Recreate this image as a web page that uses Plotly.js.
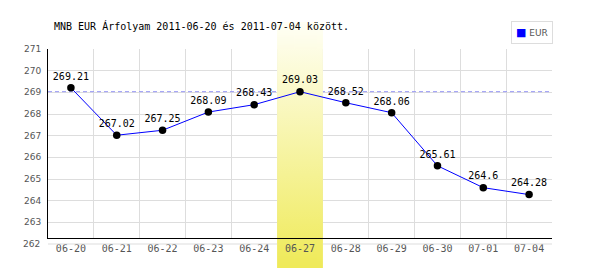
<!DOCTYPE html>
<html>
<head>
<meta charset="utf-8">
<script src="https://cdn.plot.ly/plotly-3.0.1.min.js"></script>
<style>html,body{margin:0;padding:0;background:#fff;}#chart{width:600px;height:270px;}</style>
</head>
<body>
<div id="chart"></div>
<script>
// ---- data ----
var categories = ['06-20','06-21','06-22','06-23','06-24','06-27','06-28','06-29','06-30','07-01','07-04'];
var values = [269.21, 267.02, 267.25, 268.09, 268.43, 269.03, 268.52, 268.06, 265.61, 264.6, 264.28];
var seriesName = 'EUR';
var highlightCategory = '06-27';
var yTickValues = [262, 263, 264, 265, 266, 267, 268, 269, 270, 271];
var titleText = 'MNB EUR Árfolyam 2011-06-20 és 2011-07-04 között.';

// ---- geometry / style ----
var W = 600, H = 270;
var M = {l: 48, r: 48, t: 49, b: 32};
var plotH = H - M.t - M.b;            // 189
var yMax = 271, yMinLabel = 262;
var pxPerUnit = (244 - M.t) / (yMax - yMinLabel);
var yMin = yMax - plotH / pxPerUnit;   // axis bottom sits a bit above 262
function pxToVal(py) { return yMax - (py - M.t) / pxPerUnit; }
function pxToPaperY(py) { return (H - M.b - py) / plotH; }

var idx = categories.map(function (c, i) { return i; });
var hi = categories.indexOf(highlightCategory);
var nCat = categories.length;
var bandTopPx = 22, bandBotPx = 268;
var topColor = [255, 255, 246], botColor = [239, 234, 88];
function rgb(c) { return 'rgb(' + c[0] + ',' + c[1] + ',' + c[2] + ')'; }

// gradient image for band parts outside the plot area
var cv = document.createElement('canvas');
cv.width = 4; cv.height = 256;
var ctx = cv.getContext('2d');
var g = ctx.createLinearGradient(0, 0, 0, 256);
g.addColorStop(0, rgb(topColor));
g.addColorStop(1, rgb(botColor));
ctx.fillStyle = g; ctx.fillRect(0, 0, 4, 256);
var bandImg = cv.toDataURL('image/png');

var monoFont = 'DejaVu Sans Mono, monospace';
var sansFont = 'DejaVu Sans, sans-serif';

var refLine = {
  x: [-0.5, nCat - 0.5], y: [values[hi], values[hi]],
  type: 'scatter', mode: 'lines', showlegend: false, hoverinfo: 'skip',
  line: {color: '#9595f5', width: 1, dash: '4px,3px'}
};

var band = {
  x: [hi - 0.5, hi + 0.5, hi + 0.5, hi - 0.5, hi - 0.5],
  y: [yMin, yMin, yMax, yMax, yMin],
  type: 'scatter', mode: 'lines', fill: 'toself', showlegend: false, hoverinfo: 'skip',
  line: {width: 0, color: 'rgba(0,0,0,0)'},
  fillgradient: {
    type: 'vertical',
    start: pxToVal(bandBotPx), stop: pxToVal(bandTopPx),
    colorscale: [[0, rgb(botColor)], [1, rgb(topColor)]]
  }
};

var series = {
  x: idx, y: values, name: seriesName,
  type: 'scatter', mode: 'lines+markers+text',
  text: values.map(function (v) { return String(v); }),
  textposition: 'top center',
  textfont: {family: monoFont, size: 10, color: '#000'},
  cliponaxis: false,
  line: {color: '#0000ff', width: 1},
  marker: {color: '#000', size: 7.5},
  showlegend: false, hoverinfo: 'skip'
};

var bandL = hi / nCat, bandR = (hi + 1) / nCat;
var y262 = pxToPaperY(244);

var layout = {
  width: W, height: H,
  margin: M,
  paper_bgcolor: '#fff', plot_bgcolor: '#fff',
  showlegend: false,
  hovermode: false,
  title: {
    text: titleText,
    font: {family: monoFont, size: 10, color: '#000'},
    xref: 'container', yref: 'container',
    x: 54 / W, xanchor: 'left',
    y: 1 - 26 / H, yanchor: 'middle'
  },
  xaxis: {
    type: 'linear', range: [-0.5, nCat - 0.5], fixedrange: true,
    tickmode: 'array', tickvals: idx, ticktext: categories,
    tickfont: {family: monoFont, size: 10, color: '#555'},
    ticks: 'outside', ticklen: 1, tickcolor: 'rgba(0,0,0,0)',
    showgrid: false, zeroline: false,
    showline: true, linecolor: '#000', linewidth: 1,
    minor: {tick0: 0.5, dtick: 1, showgrid: true, gridcolor: '#dddddd', gridwidth: 1, ticks: ''}
  },
  yaxis: {
    range: [yMin, yMax], fixedrange: true,
    tickmode: 'array', tickvals: yTickValues,
    tickfont: {family: sansFont, size: 9, color: '#555'},
    ticks: 'outside', ticklen: 4, tickcolor: 'rgba(0,0,0,0)',
    showgrid: true, gridcolor: '#dddddd', gridwidth: 1, zeroline: false,
    showline: true, linecolor: '#000', linewidth: 1
  },
  images: [{
    source: bandImg, xref: 'paper', yref: 'paper',
    x: bandL, y: pxToPaperY(bandTopPx), sizex: bandR - bandL,
    sizey: pxToPaperY(bandTopPx) - pxToPaperY(bandBotPx),
    xanchor: 'left', yanchor: 'top', sizing: 'stretch', layer: 'below'
  }],
  shapes: [
    {type: 'line', xref: 'paper', yref: 'paper', x0: 0, x1: bandL, y0: y262, y1: y262,
     line: {color: '#dddddd', width: 1}},
    {type: 'line', xref: 'paper', yref: 'paper', x0: bandR, x1: 1, y0: y262, y1: y262,
     line: {color: '#dddddd', width: 1}}
  ],
  annotations: [
    {text: String(yMinLabel), xref: 'paper', yref: 'paper', x: 0, y: y262,
     xanchor: 'right', yanchor: 'middle', xshift: -6, showarrow: false,
     font: {family: sansFont, size: 9, color: '#555'}},
    {text: '<span style="color:#0000ff;font-size:11px">■</span> EUR',
     xref: 'paper', yref: 'paper', x: (553 - M.l) / (W - M.l - M.r), y: pxToPaperY(32.5),
     xanchor: 'right', yanchor: 'middle', showarrow: false,
     bordercolor: '#dddddd', borderwidth: 1, borderpad: 4, bgcolor: '#fff',
     font: {family: sansFont, size: 9, color: '#555'}}
  ]
};

Plotly.newPlot('chart', [refLine, band, series], layout, {staticPlot: true, displayModeBar: false});
</script>
</body>
</html>
